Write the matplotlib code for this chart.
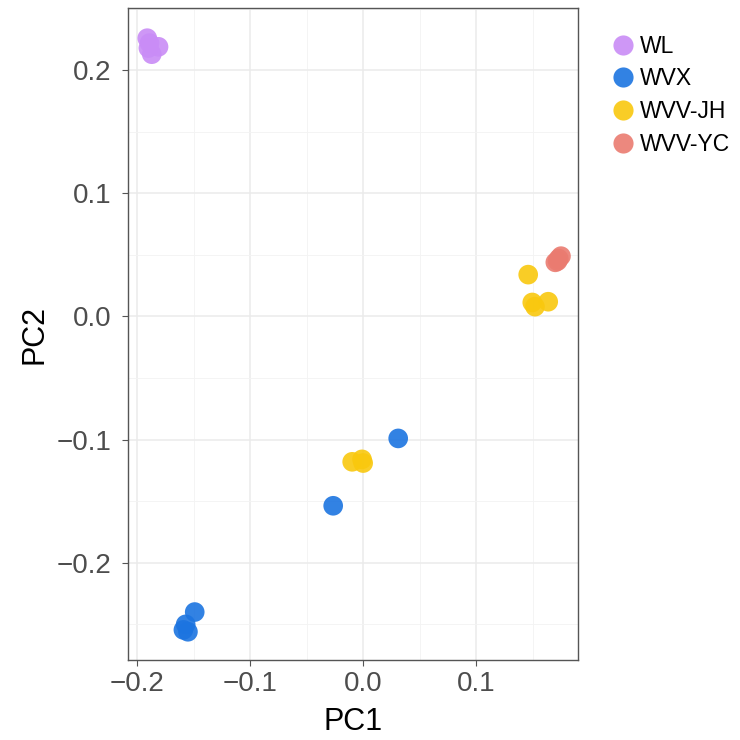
import matplotlib
matplotlib.use("Agg")
import matplotlib.pyplot as plt
from matplotlib.ticker import MultipleLocator, FuncFormatter
from matplotlib.lines import Line2D

plt.rcParams['font.family'] = ['Liberation Sans', 'DejaVu Sans']

groups = ["WL", "WVX", "WVV-JH", "WVV-YC"]
colors = ["#C98CF6", "#1C74E0", "#F9C80E", "#EA7B70"]

wl_x = [-0.191, -0.189, -0.187, -0.181, -0.190]
wl_y = [0.226, 0.222, 0.213, 0.219, 0.218]
wvx_x = [-0.149, -0.157, -0.159, -0.155, -0.0265, 0.031]
wvx_y = [-0.240, -0.250, -0.2545, -0.256, -0.1537, -0.099]
jh_x = [-0.0097, -0.001, 0.0, 0.146, 0.1496, 0.152, 0.1637]
jh_y = [-0.118, -0.116, -0.119, 0.034, 0.0114, 0.008, 0.012]
yc_x = [0.170, 0.172, 0.175, 0.173]
yc_y = [0.044, 0.045, 0.049, 0.047]

data = [(wl_x, wl_y), (wvx_x, wvx_y), (jh_x, jh_y), (yc_x, yc_y)]

fig = plt.figure(figsize=(7.4, 7.4), dpi=100)
ax = fig.add_axes([0.173, 0.108, 0.608, 0.881])

for (xs, ys), c in zip(data, colors):
    ax.scatter(xs, ys, s=200, color=c, alpha=0.9, edgecolors='none', zorder=3)

ax.set_xlim(-0.208, 0.190)
ax.set_ylim(-0.279, 0.2504)
ax.xaxis.set_major_locator(MultipleLocator(0.1))
ax.yaxis.set_major_locator(MultipleLocator(0.1))
ax.xaxis.set_minor_locator(MultipleLocator(0.05))
ax.yaxis.set_minor_locator(MultipleLocator(0.05))
ax.grid(which='major', color='#EBEBEB', linewidth=1.1, zorder=0)
ax.grid(which='minor', color='#F3F3F3', linewidth=0.6, zorder=0)
ax.set_axisbelow(True)
for sp in ax.spines.values():
    sp.set_color('#555555')
    sp.set_linewidth(1.0)
ax.tick_params(which='major', length=4, color='#555555', labelsize=20, labelcolor='#4D4D4D')
ax.tick_params(axis='x', which='major', pad=4)
ax.tick_params(axis='y', which='major', pad=8)
ax.tick_params(which='minor', length=0)
fmt = FuncFormatter(lambda v, p: f"{v:.1f}".replace('-', '\u2212'))
ax.xaxis.set_major_formatter(fmt)
ax.yaxis.set_major_formatter(fmt)
ax.set_xlabel("PC1", fontsize=22, labelpad=7)
ax.set_ylabel("PC2", fontsize=22, labelpad=5)

handles = [Line2D([], [], marker='o', linestyle='none', markersize=14.5,
                  markerfacecolor=c, markeredgecolor='none', alpha=0.9) for c in colors]
fig.legend(handles, groups, loc='upper left', bbox_to_anchor=(0.826, 0.953),
           frameon=False, fontsize=16.5, handlelength=1.0, handletextpad=0.24,
           labelspacing=0.42, borderaxespad=0, borderpad=0)

fig.savefig("out.png", dpi=100, facecolor='white')
